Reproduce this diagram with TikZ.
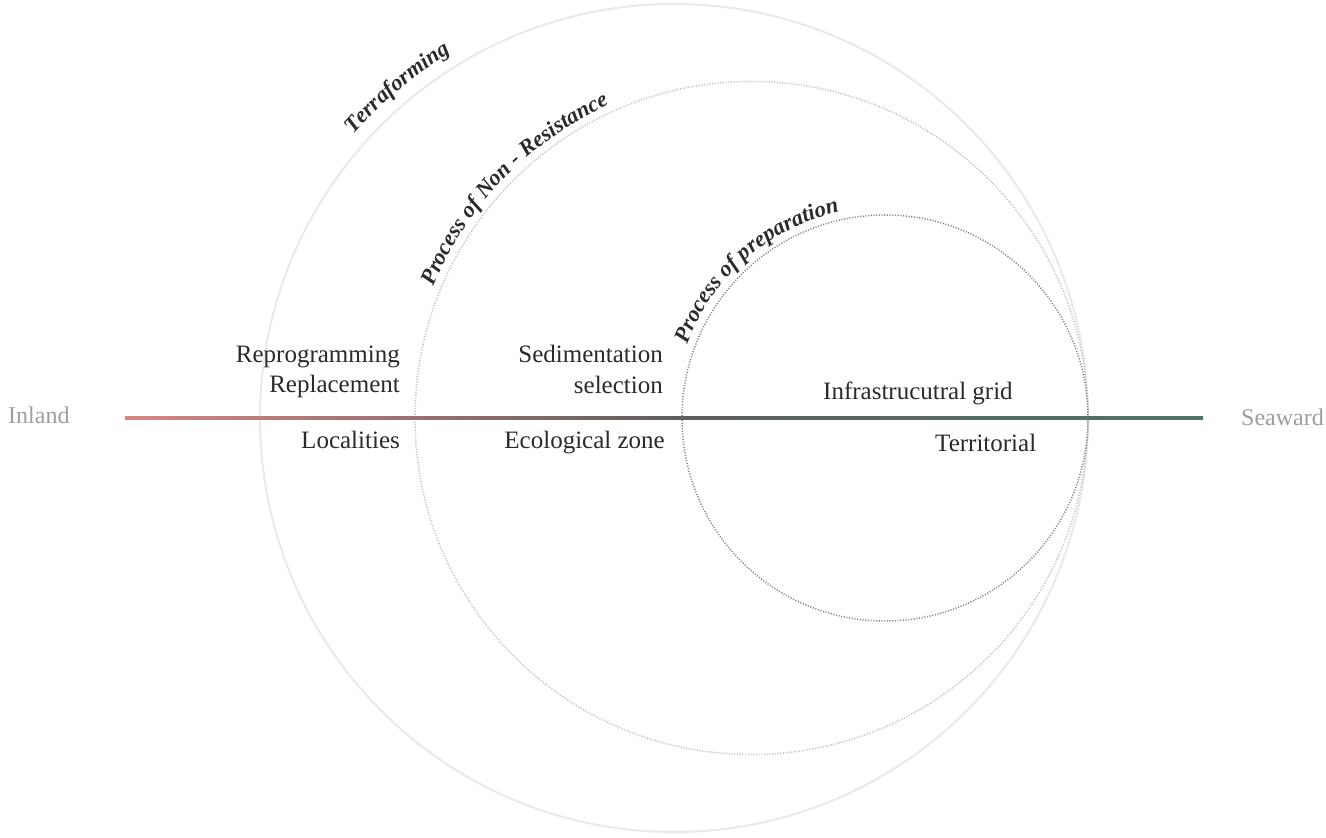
\documentclass[tikz,border=0pt]{standalone}
\usepackage{fontspec}
\setmainfont{Liberation Serif}
\usetikzlibrary{decorations.text}
\definecolor{outerc}{HTML}{E9E9E9}
\definecolor{midc}{HTML}{C4C4C4}
\definecolor{innerc}{HTML}{858585}
\definecolor{textc}{HTML}{2A2A2A}
\definecolor{sidec}{HTML}{9E9E9E}
\definecolor{redc}{HTML}{D98484}
\definecolor{greenc}{HTML}{4E7566}
\definecolor{darkc}{HTML}{5E5E5E}
\newcommand\curvfont{\fontsize{22.5}{22.5}\selectfont\bfseries\itshape}
\begin{document}
\begin{tikzpicture}[x=1pt,y=1pt,
  lbl/.style={font=\fontsize{25}{30}\selectfont, text=textc, inner sep=0pt},
  side/.style={font=\fontsize{24}{30}\selectfont, text=sidec, inner sep=0pt},
  outerring/.style={draw=outerc, line width=2pt},
  midring/.style={draw=midc, line width=1.6pt, dash pattern=on 1.1pt off 1.6pt},
  innerring/.style={draw=innerc, line width=1.5pt, dash pattern=on 1.1pt off 1.6pt},
  curved/.style={decorate, decoration={text along path, text align=center, text color=textc}}]
\useasboundingbox (0,0) rectangle (1326,838);
% circles
\coordinate (oc) at (674,420);
\coordinate (mc) at (751.5,420);
\coordinate (ic) at (885,420);
\draw[outerring] (oc) circle[radius=414];
\draw[midring] (mc) circle[radius=336.5];
\draw[innerring] (ic) circle[radius=203];
% horizontal axis
\coordinate (lineL) at (125,420);
\coordinate (lineR) at (1203,420);
\coordinate (lineM) at (682,420);
\shade[left color=redc, right color=darkc] ([yshift=-1.3pt]lineL) rectangle ([yshift=1.3pt]lineM);
\shade[left color=darkc, right color=greenc] ([yshift=-1.3pt]lineM) rectangle ([yshift=1.3pt]lineR);
% side labels
\node[side, anchor=base west] (inland) at (8,414) {Inland};
\node[side, anchor=base east] (seaward) at (1324,412) {Seaward};
% labels
\node[lbl, anchor=base east] (repro) at (400,475) {Reprogramming};
\node[lbl, anchor=base east] (repl) at (400,445) {Replacement};
\node[lbl, anchor=base east] (loc) at (400,389) {Localities};
\node[lbl, anchor=base east] (sed) at (663,475) {Sedimentation};
\node[lbl, anchor=base east] (sel) at (663,444) {selection};
\node[lbl, anchor=base east] (eco) at (665,389) {Ecological zone};
\node[lbl, anchor=base west] (infra) at (823,438) {Infrastrucutral grid};
\node[lbl, anchor=base west] (terr) at (935,386) {Territorial};
% curved labels
\path[curved, decoration={text={|\curvfont|Terraforming}}]
  (oc) ++(150:428) arc[start angle=150, end angle=110, radius=428];
\path[curved, decoration={text={|\curvfont|Process of Non - Resistance}}]
  (mc) ++(172:344) arc[start angle=172, end angle=100, radius=344];
\path[curved, decoration={text={|\curvfont|Process of preparation}}]
  (ic) ++(172:211) arc[start angle=172, end angle=90, radius=211];
\end{tikzpicture}
\end{document}
